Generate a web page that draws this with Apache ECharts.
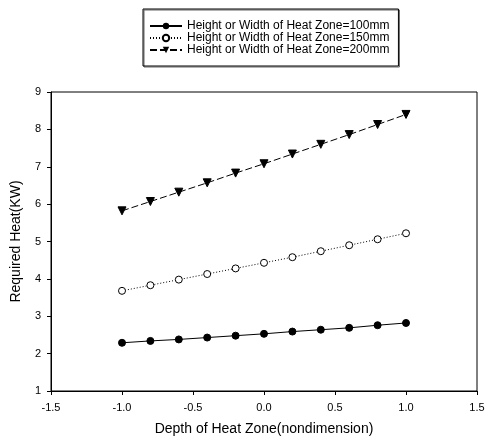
<!DOCTYPE html>
<html>
<head>
<meta charset="utf-8">
<script src="https://cdn.jsdelivr.net/npm/echarts@6/dist/echarts.min.js"></script>
<style>
html,body{margin:0;padding:0;background:#fff;}
#chart{width:485px;height:446px;}
</style>
</head>
<body>
<div id="chart"></div>
<script>
// depth of heat zone (nondimension)
var depth = [-1.0, -0.8, -0.6, -0.4, -0.2, 0.0, 0.2, 0.4, 0.6, 0.8, 1.0];
var heat100 = [2.29, 2.34, 2.38, 2.43, 2.48, 2.53, 2.59, 2.64, 2.69, 2.76, 2.82];
var heat150 = [3.68, 3.83, 3.98, 4.13, 4.28, 4.43, 4.58, 4.74, 4.90, 5.06, 5.22];
var heat200 = [5.82, 6.07, 6.32, 6.57, 6.83, 7.08, 7.34, 7.60, 7.86, 8.13, 8.40];
var names = [
    'Height or Width of Heat Zone=100mm',
    'Height or Width of Heat Zone=150mm',
    'Height or Width of Heat Zone=200mm'
];

function pairs(ys) {
    var out = [];
    for (var i = 0; i < depth.length; i++) {
        out.push([depth[i], ys[i]]);
    }
    return out;
}

var font = 'Liberation Sans, Arial, sans-serif';
var myChart = echarts.init(document.getElementById('chart'));
var option = {
    animation: false,
    backgroundColor: '#fff',
    textStyle: {fontFamily: font, color: '#000'},
    legend: {
        left: 143,
        top: 9,
        orient: 'vertical',
        padding: [11, 9, 10, 6],
        itemGap: 0,
        itemWidth: 32,
        itemHeight: 8,
        borderColor: '#000',
        borderWidth: 1,
        shadowColor: '#666',
        shadowOffsetX: 1,
        shadowOffsetY: 1,
        textStyle: {fontSize: 12, color: '#000', fontFamily: font, lineHeight: 12},
        data: names
    },
    grid: {
        left: 51, right: 8, top: 92, bottom: 55,
        containLabel: false,
        outerBoundsMode: 'none',
        show: true,
        borderColor: '#000',
        borderWidth: 1
    },
    xAxis: {
        type: 'value',
        min: -1.5, max: 1.5, interval: 0.5,
        name: 'Depth of Heat Zone(nondimension)',
        nameLocation: 'middle',
        nameGap: 31,
        nameTextStyle: {fontSize: 14, color: '#000'},
        axisLine: {onZero: false, lineStyle: {color: '#000'}},
        axisTick: {show: true, length: 4, lineStyle: {color: '#000'}},
        axisLabel: {fontSize: 11, color: '#000', margin: 11,
            formatter: function (v) { return v.toFixed(1); }},
        splitLine: {show: false}
    },
    yAxis: {
        type: 'value',
        min: 1, max: 9, interval: 1,
        name: 'Required Heat(KW)',
        nameLocation: 'middle',
        nameGap: 28,
        nameTextStyle: {fontSize: 14, color: '#000'},
        axisLine: {show: true, onZero: false, lineStyle: {color: '#000'}},
        axisTick: {show: true, length: 4, lineStyle: {color: '#000'}},
        axisLabel: {fontSize: 11, color: '#000', margin: 10},
        splitLine: {show: false}
    },
    series: [
        {
            name: names[0],
            type: 'line',
            data: pairs(heat100),
            symbol: 'circle',
            symbolSize: 7,
            itemStyle: {color: '#000', borderColor: '#000'},
            lineStyle: {color: '#000', width: 1, type: 'solid'}
        },
        {
            name: names[1],
            type: 'line',
            data: pairs(heat150),
            symbol: 'circle',
            symbolSize: 7,
            itemStyle: {color: '#fff', borderColor: '#000', borderWidth: 1},
            lineStyle: {color: '#000', width: 1, type: [1, 2]}
        },
        {
            name: names[2],
            type: 'line',
            data: pairs(heat200),
            symbol: 'triangle',
            symbolRotate: 180,
            symbolSize: 8,
            itemStyle: {color: '#000', borderColor: '#000'},
            lineStyle: {color: '#000', width: 1, type: [7, 3]}
        }
    ]
};
myChart.setOption(option);
</script>
</body>
</html>
